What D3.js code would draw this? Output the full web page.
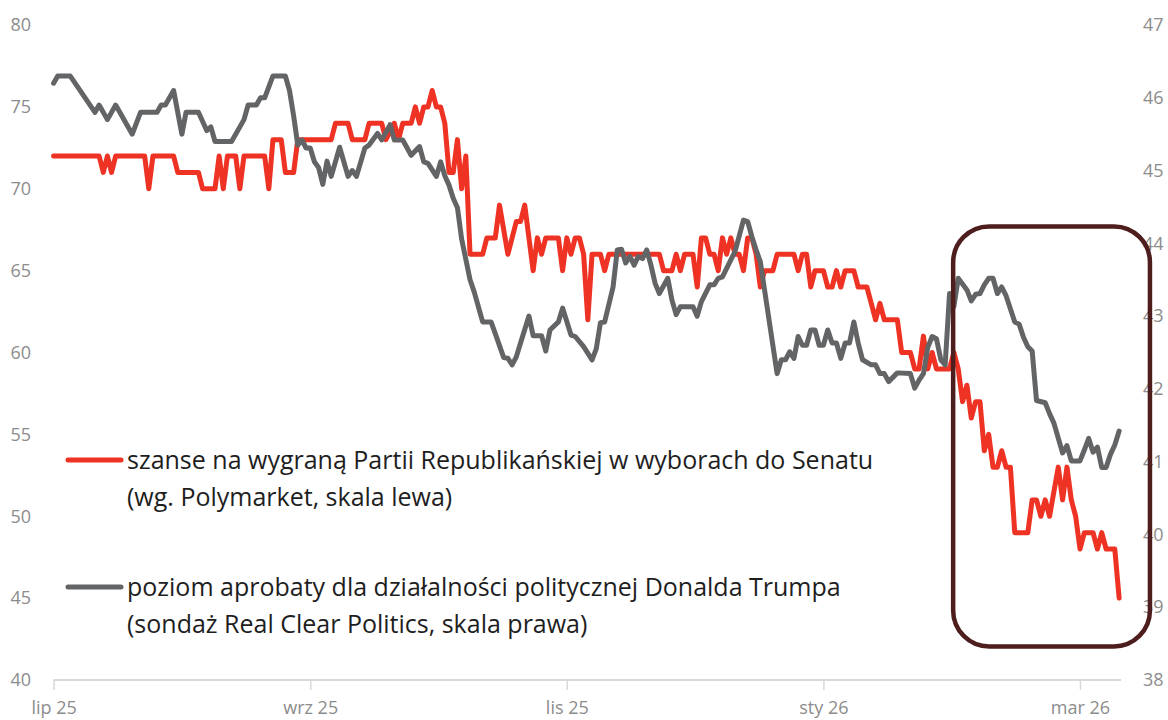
<!DOCTYPE html>
<html>
<head>
<meta charset="utf-8">
<script src="https://cdn.jsdelivr.net/npm/d3@7"></script>
<style>
  html, body { margin: 0; padding: 0; background: #ffffff; }
  svg text { font-family: "Open Sans", "Noto Sans", sans-serif; }
</style>
</head>
<body>
<svg id="chart" width="1168" height="720"></svg>
<script>
// ---- data -------------------------------------------------------------
// Axis tick dates (every two months) and tick values of both scales
const tickDates = ["2025-07-01", "2025-09-01", "2025-11-01", "2026-01-01", "2026-03-01"];
const leftTicks = [40, 45, 50, 55, 60, 65, 70, 75, 80];
const rightTicks = [38, 39, 40, 41, 42, 43, 44, 45, 46, 47];

// Polymarket: chance of a Republican win in the Senate race (%), left scale
const gopDates = [
  "2025-07-01","2025-07-12","2025-07-13","2025-07-14","2025-07-15","2025-07-16","2025-07-23","2025-07-24","2025-07-25","2025-07-30","2025-07-31",
  "2025-08-05","2025-08-06","2025-08-09","2025-08-10","2025-08-11","2025-08-12","2025-08-14","2025-08-15","2025-08-16","2025-08-21","2025-08-22",
  "2025-08-23","2025-08-25","2025-08-26","2025-08-28","2025-08-29",
  "2025-09-06","2025-09-07","2025-09-10","2025-09-11","2025-09-14","2025-09-15","2025-09-18","2025-09-19","2025-09-21","2025-09-22","2025-09-23",
  "2025-09-25","2025-09-26","2025-09-27","2025-09-28","2025-09-29","2025-09-30",
  "2025-10-01","2025-10-02","2025-10-03","2025-10-04","2025-10-05","2025-10-06","2025-10-07","2025-10-08","2025-10-09","2025-10-12","2025-10-13",
  "2025-10-15","2025-10-16","2025-10-18","2025-10-20","2025-10-21","2025-10-22","2025-10-24","2025-10-25","2025-10-26","2025-10-27","2025-10-30","2025-10-31",
  "2025-11-01","2025-11-02","2025-11-03","2025-11-04","2025-11-05","2025-11-06","2025-11-07","2025-11-09","2025-11-10","2025-11-11","2025-11-23",
  "2025-11-24","2025-11-26","2025-11-27","2025-11-28","2025-11-29",
  "2025-12-01","2025-12-02","2025-12-03","2025-12-04","2025-12-05","2025-12-06","2025-12-07","2025-12-08","2025-12-09","2025-12-10","2025-12-11",
  "2025-12-12","2025-12-13","2025-12-14","2025-12-15","2025-12-16","2025-12-17","2025-12-18","2025-12-20","2025-12-21","2025-12-25","2025-12-26",
  "2025-12-27","2025-12-28","2025-12-29","2025-12-30",
  "2026-01-01","2026-01-02","2026-01-03","2026-01-04","2026-01-05","2026-01-06","2026-01-08","2026-01-09","2026-01-11","2026-01-12","2026-01-13",
  "2026-01-14","2026-01-15","2026-01-18","2026-01-19","2026-01-21","2026-01-22","2026-01-23","2026-01-24","2026-01-25","2026-01-26","2026-01-27",
  "2026-01-30","2026-01-31",
  "2026-02-01","2026-02-02","2026-02-03","2026-02-04","2026-02-05","2026-02-06","2026-02-07","2026-02-08","2026-02-09","2026-02-10","2026-02-11",
  "2026-02-12","2026-02-13","2026-02-14","2026-02-17","2026-02-18","2026-02-19","2026-02-20","2026-02-21","2026-02-22","2026-02-24","2026-02-25",
  "2026-02-26","2026-02-27","2026-02-28",
  "2026-03-01","2026-03-02","2026-03-04","2026-03-05","2026-03-06","2026-03-07","2026-03-09","2026-03-10"
];
const gopChance = [
  72,72,71,72,71,72,72,70,72,72,71,
  71,70,70,72,70,72,72,70,72,72,70,
  73,73,71,71,73,
  73,74,74,73,73,74,74,73,74,73,74,
  74,75,74,75,75,76,
  75,75,74,71,71,73,70,72,66,66,67,
  67,69,66,68,68,69,65,67,66,67,67,65,
  67,66,67,67,66,62,66,66,65,66,66,
  65,65,66,65,66,
  66,64,67,67,66,66,65,67,66,67,66,
  66,65,67,67,66,64,65,65,66,66,65,
  66,66,64,65,
  65,64,64,65,64,65,65,64,64,63,62,
  63,62,62,60,60,59,59,61,59,60,59,
  59,60,
  59,57,58,56,57,57,54,55,53,53,54,
  53,53,49,49,51,51,50,51,50,53,51,
  53,51,50,
  48,49,49,48,49,48,48,45
];

// Real Clear Politics: Donald Trump job approval (%), right scale
const approvalDates = [
  "2025-07-01","2025-07-02","2025-07-05","2025-07-11","2025-07-12","2025-07-14","2025-07-16","2025-07-20","2025-07-22","2025-07-26","2025-07-27",
  "2025-07-28","2025-07-30",
  "2025-08-01","2025-08-02","2025-08-05","2025-08-07","2025-08-08","2025-08-09","2025-08-13","2025-08-16","2025-08-17","2025-08-19","2025-08-20",
  "2025-08-21","2025-08-23","2025-08-26","2025-08-27","2025-08-28","2025-08-29","2025-08-30","2025-08-31",
  "2025-09-01","2025-09-02","2025-09-03","2025-09-04","2025-09-05","2025-09-06","2025-09-08","2025-09-10","2025-09-11","2025-09-12","2025-09-14",
  "2025-09-15","2025-09-17","2025-09-18","2025-09-20","2025-09-21","2025-09-23","2025-09-25","2025-09-27","2025-09-28","2025-09-29",
  "2025-10-01","2025-10-02","2025-10-03","2025-10-04","2025-10-05","2025-10-06","2025-10-07","2025-10-09","2025-10-10","2025-10-12","2025-10-14",
  "2025-10-15","2025-10-17","2025-10-18","2025-10-19","2025-10-20","2025-10-21","2025-10-23","2025-10-24","2025-10-26","2025-10-27","2025-10-28",
  "2025-10-30","2025-10-31",
  "2025-11-02","2025-11-03","2025-11-05","2025-11-07","2025-11-08","2025-11-09","2025-11-10","2025-11-12","2025-11-13","2025-11-14","2025-11-15",
  "2025-11-16","2025-11-17","2025-11-18","2025-11-19","2025-11-20","2025-11-21","2025-11-22","2025-11-23","2025-11-25","2025-11-26","2025-11-27",
  "2025-11-28",
  "2025-12-01","2025-12-02","2025-12-03","2025-12-05","2025-12-06","2025-12-07","2025-12-08","2025-12-11","2025-12-13","2025-12-14","2025-12-15",
  "2025-12-16","2025-12-17","2025-12-21","2025-12-22","2025-12-23","2025-12-24","2025-12-25","2025-12-26","2025-12-27","2025-12-28","2025-12-29",
  "2025-12-30","2025-12-31",
  "2026-01-01","2026-01-02","2026-01-03","2026-01-04","2026-01-05","2026-01-06","2026-01-07","2026-01-08","2026-01-09","2026-01-10","2026-01-12",
  "2026-01-13","2026-01-14","2026-01-15","2026-01-16","2026-01-18","2026-01-21","2026-01-22","2026-01-23","2026-01-24","2026-01-25","2026-01-26",
  "2026-01-27","2026-01-28","2026-01-29","2026-01-30","2026-01-31",
  "2026-02-01","2026-02-03","2026-02-04","2026-02-05","2026-02-06","2026-02-07","2026-02-08","2026-02-09","2026-02-10","2026-02-11","2026-02-12",
  "2026-02-14","2026-02-15","2026-02-16","2026-02-17","2026-02-18","2026-02-19","2026-02-21","2026-02-22","2026-02-23","2026-02-25","2026-02-26",
  "2026-02-27",
  "2026-03-01","2026-03-02","2026-03-03","2026-03-04","2026-03-05","2026-03-06","2026-03-07","2026-03-08","2026-03-09","2026-03-10"
];
const trumpApproval = [
  46.2,46.3,46.3,45.8,45.9,45.7,45.9,45.5,45.8,45.8,45.9,
  45.9,46.1,
  45.5,45.8,45.8,45.55,45.6,45.4,45.4,45.7,45.9,45.9,46.0,
  46.0,46.3,46.3,46.1,45.75,45.35,45.42,45.31,
  45.31,45.12,45.04,44.81,45.13,44.92,45.32,44.92,45.0,44.92,45.31,
  45.35,45.51,45.42,45.63,45.42,45.42,45.21,45.33,45.12,45.1,
  44.92,45.12,44.93,44.8,44.62,44.49,44.06,43.5,43.33,42.92,42.92,
  42.76,42.43,42.42,42.33,42.44,42.63,43.0,42.73,42.73,42.52,42.81,
  42.92,43.11,
  42.74,42.72,42.58,42.4,42.55,42.91,42.92,43.4,43.91,43.92,43.73,
  43.82,43.7,43.82,43.79,43.91,43.7,43.45,43.31,43.52,43.22,43.02,
  43.13,
  43.13,43.0,43.2,43.43,43.43,43.52,43.54,43.89,44.32,44.3,44.09,
  43.91,43.75,42.21,42.4,42.4,42.51,42.42,42.72,42.6,42.6,42.81,
  42.81,42.6,
  42.6,42.81,42.63,42.63,42.42,42.63,42.63,42.92,42.63,42.4,42.33,
  42.33,42.21,42.21,42.1,42.22,42.21,42.01,42.12,42.21,42.57,42.72,
  42.69,42.4,42.33,43.31,43.13,
  43.52,43.36,43.21,43.3,43.31,43.43,43.52,43.52,43.31,43.4,43.28,
  42.92,42.89,42.71,42.58,42.52,41.84,41.81,41.66,41.53,41.12,41.22,
  41.01,
  41.01,41.16,41.32,41.13,41.2,40.92,40.92,41.1,41.23,41.42
];

// Legend texts
const legendRows = [
  { key: "gop", lines: ["szanse na wygraną Partii Republikańskiej w wyborach do Senatu", "(wg. Polymarket, skala lewa)"] },
  { key: "approval", lines: ["poziom aprobaty dla działalności politycznej Donalda Trumpa", "(sondaż Real Clear Politics, skala prawa)"] }
];

// Highlighted period (rounded frame), in data units of the left scale
const highlight = { from: "2026-01-30T20:00", to: "2026-03-17T02:00", top: 67.7, bottom: 42.05 };

// ---- setup ------------------------------------------------------------
const plotLeft = 53.6, plotRight = 1080, plotTop = 25, plotBottom = 680;
const colors = { gop: "#ee3224", approval: "#636466", frame: "#4e1d1d", tick: "#8c8c8c", axis: "#d9d9d9", text: "#1e1e1e" };

const parse = d3.isoParse;
const plLocale = d3.timeFormatLocale({
  dateTime: "%A, %e %B %Y, %X", date: "%d.%m.%Y", time: "%H:%M:%S", periods: ["AM", "PM"],
  days: ["niedziela","poniedziałek","wtorek","środa","czwartek","piątek","sobota"],
  shortDays: ["niedz.","pon.","wt.","śr.","czw.","pt.","sob."],
  months: ["styczeń","luty","marzec","kwiecień","maj","czerwiec","lipiec","sierpień","wrzesień","październik","listopad","grudzień"],
  shortMonths: ["sty","lut","mar","kwi","maj","cze","lip","sie","wrz","paź","lis","gru"]
});
const fmtTick = plLocale.format("%b %y");

const ticks = tickDates.map(parse);
const step = (plotRight - plotLeft) / (ticks.length - 1);
// labelled months sit at equal distances along the axis
const x = d3.scaleTime().domain(ticks).range(ticks.map((d, i) => plotLeft + i * step));
const yL = d3.scaleLinear().domain([40, 80]).range([plotBottom, plotTop]);
const yR = d3.scaleLinear().domain([38, 47]).range([plotBottom, plotTop]);

const gop = gopDates.map((d, i) => ({ date: parse(d), value: gopChance[i] }));
const approval = approvalDates.map((d, i) => ({ date: parse(d), value: trumpApproval[i] }));

const svg = d3.select("#chart");

// ---- axes -------------------------------------------------------------
const lastDate = d3.max(gop, d => d.date);
svg.append("line")
  .attr("x1", x(ticks[0])).attr("x2", x(lastDate) + 2)
  .attr("y1", plotBottom).attr("y2", plotBottom)
  .attr("stroke", colors.axis).attr("stroke-width", 2);

const xAxis = svg.append("g")
  .attr("transform", `translate(0,${plotBottom})`)
  .call(d3.axisBottom(x).tickValues(ticks).tickFormat(fmtTick).tickSize(10).tickPadding(11));
xAxis.select(".domain").remove();
xAxis.selectAll(".tick line").attr("stroke", colors.axis).attr("stroke-width", 1.5);
xAxis.selectAll(".tick text").attr("fill", colors.tick).attr("font-size", 18)
  .attr("font-family", "'Open Sans', sans-serif");

const leftAxis = svg.append("g")
  .attr("transform", "translate(31,0)")
  .call(d3.axisLeft(yL).tickValues(leftTicks).tickFormat(d3.format("d")).tickSize(0).tickPadding(0));
leftAxis.select(".domain").remove();
leftAxis.selectAll(".tick text").attr("fill", colors.tick).attr("font-size", 18)
  .attr("font-family", "'Open Sans', sans-serif");

const rightAxis = svg.append("g")
  .attr("transform", "translate(1143,0)")
  .call(d3.axisRight(yR).tickValues(rightTicks).tickFormat(d3.format("d")).tickSize(0).tickPadding(0));
rightAxis.select(".domain").remove();
rightAxis.selectAll(".tick text").attr("fill", colors.tick).attr("font-size", 18)
  .attr("font-family", "'Open Sans', sans-serif");

// ---- series -----------------------------------------------------------
const lineL = d3.line().x(d => x(d.date)).y(d => yL(d.value));
const lineR = d3.line().x(d => x(d.date)).y(d => yR(d.value));

svg.append("path").datum(gop)
  .attr("d", lineL).attr("fill", "none")
  .attr("stroke", colors.gop).attr("stroke-width", 5)
  .attr("stroke-linejoin", "round").attr("stroke-linecap", "round");

svg.append("path").datum(approval)
  .attr("d", lineR).attr("fill", "none")
  .attr("stroke", colors.approval).attr("stroke-width", 5)
  .attr("stroke-linejoin", "round").attr("stroke-linecap", "round");

// ---- highlighted period -----------------------------------------------
const fx0 = x(parse(highlight.from)), fx1 = x(parse(highlight.to));
const fy0 = yL(highlight.top), fy1 = yL(highlight.bottom);
svg.append("rect")
  .attr("x", fx0).attr("y", fy0)
  .attr("width", fx1 - fx0).attr("height", fy1 - fy0)
  .attr("rx", 36).attr("ry", 36)
  .attr("fill", "none").attr("stroke", colors.frame).attr("stroke-width", 4.5);

// ---- legend -----------------------------------------------------------
const legend = svg.append("g").attr("transform", "translate(68,460)");
const rowGap = 127, lineGap = 37;
legendRows.forEach((row, i) => {
  const g = legend.append("g").attr("transform", `translate(0,${i * rowGap})`);
  g.append("line").attr("x1", 0).attr("x2", 53).attr("y1", 0).attr("y2", 0)
    .attr("stroke", colors[row.key]).attr("stroke-width", 5).attr("stroke-linecap", "round");
  const t = g.append("text").attr("x", 59).attr("y", 9)
    .attr("font-size", 25).attr("fill", colors.text);
  row.lines.forEach((ln, j) => {
    t.append("tspan").attr("x", 59).attr("dy", j === 0 ? 0 : lineGap).text(ln);
  });
});
</script>
</body>
</html>
